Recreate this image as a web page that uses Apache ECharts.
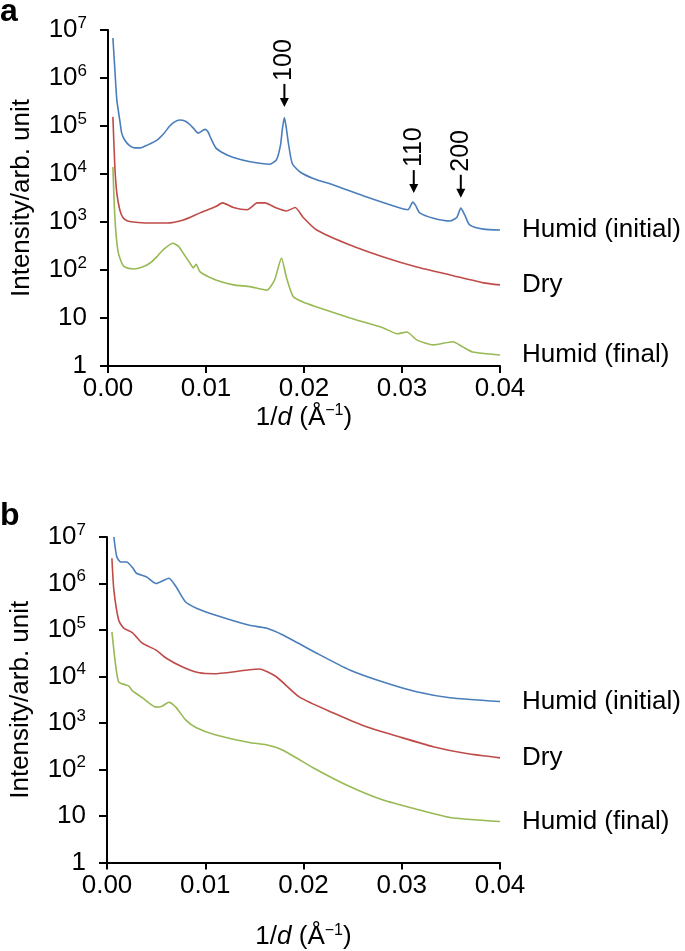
<!DOCTYPE html>
<html><head><meta charset="utf-8">
<script src="https://cdn.jsdelivr.net/npm/echarts@6/dist/echarts.min.js"></script>
<style>html,body{margin:0;padding:0;background:#fff}#c{width:685px;height:951px}</style>
</head><body><div id="c"></div>
<script>
const seriesNames = ['Humid (initial)', 'Dry', 'Humid (final)'];
const colors = ['#4a7ebb', '#be4b48', '#98b954'];
const xTickLabels = ['0.00', '0.01', '0.02', '0.03', '0.04'];
const yTickLabels = ['1', '10', '10{s|2}', '10{s|3}', '10{s|4}', '10{s|5}', '10{s|6}', '10{s|7}'];
const panelLetters = ['a', 'b'];

// Panel a
const aHumidInitial = [
  [0.0005, 6.8e6], [0.0007, 1.5e6], [0.0009, 3.5e5], [0.0012, 1.33e5], [0.0014, 7.1e4], [0.0017, 5.1e4],
  [0.0022, 3.9e4], [0.0027, 3.5e4], [0.0033, 3.5e4], [0.004, 4.0e4], [0.005, 5.1e4], [0.0057, 7.0e4],
  [0.0063, 1.0e5], [0.0068, 1.22e5], [0.0073, 1.33e5], [0.0079, 1.26e5], [0.0084, 1.05e5], [0.0088, 8.6e4],
  [0.0092, 7.1e4], [0.0096, 7.9e4], [0.0099, 8.5e4], [0.0102, 7.6e4], [0.0105, 5.5e4], [0.011, 3.5e4],
  [0.0118, 2.7e4], [0.0128, 2.2e4], [0.0145, 1.8e4], [0.0165, 1.6e4], [0.0172, 2.0e4], [0.0176, 4.0e4],
  [0.0178, 8.9e4], [0.018, 1.5e5], [0.0182, 8.9e4], [0.0184, 4.5e4], [0.0188, 1.66e4], [0.0196, 1.1e4],
  [0.021, 8.0e3], [0.023, 5.9e3], [0.0264, 3.3e3], [0.0298, 1.95e3], [0.0306, 1.8e3], [0.0311, 2.6e3],
  [0.0314, 2.2e3], [0.0318, 1.55e3], [0.0332, 1.2e3], [0.0349, 1.05e3], [0.0356, 1.26e3], [0.036, 1.95e3],
  [0.0364, 1.4e3], [0.0369, 870], [0.0383, 710], [0.04, 680]
];
const aDry = [
  [0.0005, 1.55e5], [0.0007, 1.4e4], [0.0009, 4.0e3], [0.0012, 1.8e3], [0.0015, 1.26e3], [0.002, 1.05e3],
  [0.0026, 1.0e3], [0.004, 950], [0.006, 950], [0.0077, 1.1e3], [0.0094, 1.55e3], [0.011, 2.1e3],
  [0.0117, 2.5e3], [0.0128, 2.0e3], [0.0142, 1.8e3], [0.0147, 2.1e3], [0.0152, 2.5e3], [0.016, 2.5e3],
  [0.0172, 1.95e3], [0.0182, 1.7e3], [0.0191, 2.0e3], [0.0199, 1.26e3], [0.0213, 680], [0.0247, 330],
  [0.0281, 186], [0.0315, 115], [0.0349, 79], [0.0383, 54], [0.04, 49]
];
const aHumidFinal = [
  [0.0005, 1.4e4], [0.0007, 1.26e3], [0.001, 260], [0.0014, 140], [0.0017, 115], [0.0026, 105],
  [0.0035, 115], [0.0043, 140], [0.005, 190], [0.0056, 260], [0.0066, 360], [0.0072, 310], [0.0077, 220],
  [0.0085, 126], [0.0087, 110], [0.009, 132], [0.0094, 91], [0.011, 62], [0.0128, 49], [0.0145, 45],
  [0.0162, 38], [0.017, 62], [0.0177, 178], [0.0182, 71], [0.0189, 28], [0.02, 21], [0.0213, 17],
  [0.0247, 10], [0.0281, 6.2], [0.0295, 4.7], [0.0305, 5.1], [0.0315, 3.5], [0.0332, 2.75], [0.0352, 3.2],
  [0.0362, 2.5], [0.0372, 1.95], [0.04, 1.7]
];
// Panel b
const bHumidInitial = [
  [0.0007, 1.0e7], [0.001, 3.7e6], [0.0014, 2.9e6], [0.002, 2.9e6], [0.0026, 2.2e6], [0.003, 1.66e6],
  [0.004, 1.4e6], [0.005, 1.0e6], [0.0063, 1.3e6], [0.007, 8.7e5], [0.008, 4.0e5], [0.0091, 2.95e5],
  [0.011, 2.1e5], [0.0145, 1.26e5], [0.0162, 1.1e5], [0.0179, 7.8e4], [0.0213, 3.2e4], [0.0247, 1.38e4],
  [0.0281, 7.6e3], [0.0315, 4.7e3], [0.0349, 3.5e3], [0.04, 2.9e3]
];
const bDry = [
  [0.0005, 3.5e6], [0.0007, 7.2e5], [0.0012, 1.6e5], [0.0017, 1.1e5], [0.0026, 8.7e4], [0.0036, 5.2e4],
  [0.005, 3.7e4], [0.006, 2.5e4], [0.0077, 1.6e4], [0.0094, 1.2e4], [0.011, 1.15e4], [0.0145, 1.4e4],
  [0.0155, 1.45e4], [0.0172, 1.0e4], [0.0196, 3.6e3], [0.023, 1.66e3], [0.0264, 830], [0.0298, 500],
  [0.0332, 310], [0.0366, 220], [0.04, 178]
];
const bHumidFinal = [
  [0.0005, 9.1e4], [0.0009, 1.6e4], [0.0012, 7.6e3], [0.0019, 6.6e3], [0.0022, 6.3e3], [0.0026, 4.9e3],
  [0.0036, 3.5e3], [0.005, 2.2e3], [0.0056, 2.3e3], [0.0063, 2.8e3], [0.007, 2.2e3], [0.008, 1.17e3],
  [0.0091, 790], [0.011, 560], [0.0145, 380], [0.0162, 340], [0.0179, 260], [0.0213, 100], [0.0247, 43],
  [0.0281, 22], [0.0315, 14], [0.0349, 9.3], [0.04, 7.6]
];
// Peak annotations (panel a, Humid initial): label, x, arrow-tip intensity
const peakLabels = ['100', '110', '200'];
const peakX = [0.018, 0.0312, 0.036];
const peakTip = [2.5e5, 4.0e3, 3.2e3];

const FONT = '"Liberation Sans", Arial, Helvetica, sans-serif';
const FS = 26;
const panels = [[aHumidInitial, aDry, aHumidFinal], [bHumidInitial, bDry, bHumidFinal]];
const grids = [
  { left: 108, top: 30, width: 392, height: 336 },
  { left: 107, top: 537, width: 393, height: 326 }
];
const xNameGaps = [33, 60];

const chart = echarts.init(document.getElementById('c'), null, { renderer: 'canvas' });
const axisLine = { show: true, lineStyle: { color: '#000', width: 2 } };
const xAxes = [], yAxes = [], series = [];
grids.forEach((g, gi) => {
  xAxes.push({
    type: 'value', gridIndex: gi, min: 0, max: 0.04, interval: 0.01,
    axisLine, axisTick: { show: true, length: 7, lineStyle: { color: '#000', width: 2 } },
    splitLine: { show: false },
    axisLabel: { color: '#000', fontSize: FS, fontFamily: FONT, margin: 10,
      formatter: v => xTickLabels[Math.round(v / 0.01)] },
    name: '1/{i|d} (Å{s|−1})', nameLocation: 'middle', nameGap: xNameGaps[gi],
    nameTextStyle: { color: '#000', fontSize: FS, fontFamily: FONT,
      rich: { i: { fontStyle: 'italic', fontSize: FS, fontFamily: FONT, color: '#000' },
              s: { fontSize: 16, fontFamily: FONT, color: '#000', verticalAlign: 'top', padding: [0, 0, 13, 0] } } }
  });
  yAxes.push({
    type: 'log', logBase: 10, gridIndex: gi, min: 1, max: 1e7,
    axisLine, axisTick: { show: true, length: 8, lineStyle: { color: '#000', width: 2 } },
    minorTick: { show: false }, splitLine: { show: false },
    axisLabel: { color: '#000', fontSize: FS, fontFamily: FONT, margin: 21,
      formatter: v => yTickLabels[Math.round(Math.log10(v))],
      rich: { s: { fontSize: 17, fontFamily: FONT, color: '#000', verticalAlign: 'top', padding: [0, 0, 14, 0] } } },
    name: 'Intensity/arb. unit', nameLocation: 'middle', nameGap: 73,
    nameTextStyle: { color: '#000', fontSize: FS, fontFamily: FONT }
  });
  panels[gi].forEach((d, si) => {
    series.push({
      type: 'line', name: seriesNames[si], xAxisIndex: gi, yAxisIndex: gi, data: d,
      showSymbol: false, smooth: 0.2, color: colors[si],
      lineStyle: { width: 1.6, color: colors[si] },
      endLabel: { show: true, formatter: seriesNames[si], color: '#000', fontSize: FS, fontFamily: FONT, distance: 22 }
    });
  });
});

chart.setOption({
  animation: false,
  backgroundColor: '#fff',
  grid: grids,
  xAxis: xAxes,
  yAxis: yAxes,
  series
});

const gfx = [];
panelLetters.forEach((l, i) => {
  gfx.push({ type: 'text', x: 0, y: i === 0 ? 28 : 532,
    style: { text: l, fontSize: 32, fontWeight: 'bold', fontFamily: FONT, fill: '#000', verticalAlign: 'bottom' } });
});
peakLabels.forEach((lab, i) => {
  const p = chart.convertToPixel({ gridIndex: 0 }, [peakX[i], peakTip[i]]);
  const px = p[0], py = p[1];
  gfx.push({ type: 'line', shape: { x1: px, y1: py - 23, x2: px, y2: py - 7 }, style: { stroke: '#000', lineWidth: 2 } });
  gfx.push({ type: 'polygon', shape: { points: [[px - 4.5, py - 9], [px + 4.5, py - 9], [px, py]] }, style: { fill: '#000' } });
  gfx.push({ type: 'text', x: px, y: py - 26, rotation: Math.PI / 2,
    style: { text: lab, x: 0, y: 0, align: 'left', verticalAlign: 'middle', fontSize: 25, fontFamily: FONT, fill: '#000' } });
});
chart.setOption({ graphic: gfx });
</script></body></html>
